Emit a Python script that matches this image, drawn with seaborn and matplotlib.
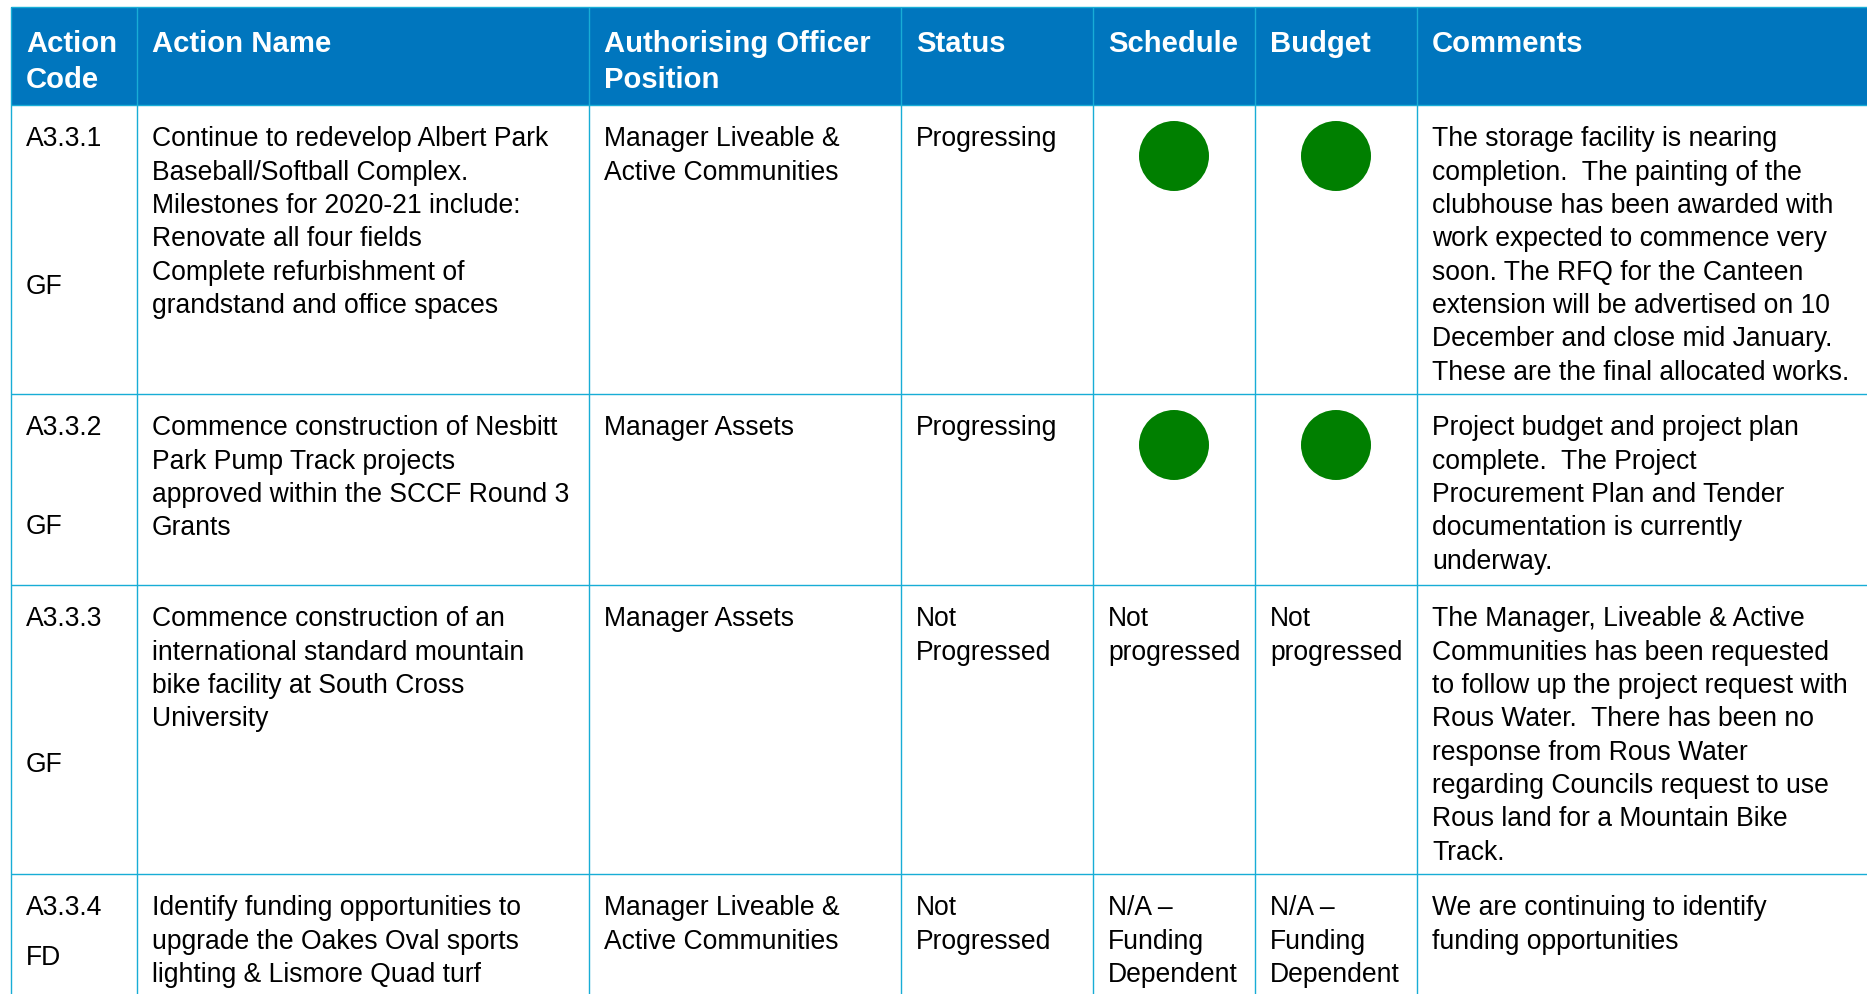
import numpy as np
import pandas as pd
import matplotlib
matplotlib.use("Agg")
import matplotlib.pyplot as plt
from matplotlib.patches import Rectangle
import seaborn as sns

# table content
headers = ["Action\nCode", "Action Name", "Authorising Officer\nPosition", "Status",
           "Schedule", "Budget", "Comments"]
codes = ["A3.3.1", "A3.3.2", "A3.3.3", "A3.3.4"]
funds = ["GF", "GF", "GF", "FD"]
names = [
    "Continue to redevelop Albert Park\nBaseball/Softball Complex.\nMilestones for 2020-21 include:\n"
    "Renovate all four fields\nComplete refurbishment of\ngrandstand and office spaces",
    "Commence construction of Nesbitt\nPark Pump Track projects\napproved within the SCCF Round 3\nGrants",
    "Commence construction of an\ninternational standard mountain\nbike facility at South Cross\nUniversity",
    "Identify funding opportunities to\nupgrade the Oakes Oval sports\nlighting & Lismore Quad turf",
]
officers = ["Manager Liveable &\nActive Communities", "Manager Assets", "Manager Assets",
            "Manager Liveable &\nActive Communities"]
status = ["Progressing", "Progressing", "Not\nProgressed", "Not\nProgressed"]
schedule = ["green", "green", "Not\nprogressed", "N/A \u2013\nFunding\nDependent"]
budget = ["green", "green", "Not\nprogressed", "N/A \u2013\nFunding\nDependent"]
comments = [
    "The storage facility is nearing\ncompletion.  The painting of the\nclubhouse has been awarded with\n"
    "work expected to commence very\nsoon. The RFQ for the Canteen\nextension will be advertised on 10\n"
    "December and close mid January.\nThese are the final allocated works.",
    "Project budget and project plan\ncomplete.  The Project\nProcurement Plan and Tender\n"
    "documentation is currently\nunderway.",
    "The Manager, Liveable & Active\nCommunities has been requested\nto follow up the project request with\n"
    "Rous Water.  There has been no\nresponse from Rous Water\nregarding Councils request to use\n"
    "Rous land for a Mountain Bike\nTrack.",
    "We are continuing to identify\nfunding opportunities",
]

# layout in pixels
W, H = 1867, 994
col_x = [11, 137, 589, 901, 1093, 1255, 1417, W]
header_top, header_bottom = 7, 105
row_tops = [105, 394, 585, 874]
fund_dy = [182, 133, 180, 84]
pad_x = 15
line_h = 33.3
first_dy = 34.4
dot_dy = 51

blue = "#0076BE"
grid = "#18ADD6"
dot_green = "#007F00"

sns.set_theme(style="white")
plt.rcParams["font.family"] = ["Liberation Sans", "DejaVu Sans"]

fig = plt.figure(figsize=(W / 100, H / 100), dpi=100)
ax = fig.add_axes([0, 0, 1, 1])
ax.set_xlim(0, W)
ax.set_ylim(H, 0)
ax.axis("off")

# header band
ax.add_patch(Rectangle((col_x[0], header_top), W - col_x[0], header_bottom - header_top,
                       facecolor=blue, edgecolor="none", zorder=1))
for c, label in enumerate(headers):
    for i, line in enumerate(label.split("\n")):
        ax.text(col_x[c] + pad_x, header_top + 37.1 + i * 35.7, line, color="white",
                fontsize=21.1, fontweight="bold", va="center", ha="left", zorder=3)

# grid lines
ax.vlines(col_x[:-1], header_top, H, color=grid, lw=1.0, zorder=2)
ax.hlines([header_top], col_x[0], W, color=grid, lw=1.0, zorder=2)
ax.hlines(row_tops, col_x[0], W, color=grid, lw=1.0, zorder=2)


def cell(col, row, text):
    for i, line in enumerate(text.split("\n")):
        ax.text(col_x[col] + pad_x, row_tops[row] + first_dy + i * line_h, line,
                color="black", fontsize=19.1, va="center", ha="left", zorder=3)


dots = []
for r in range(len(codes)):
    cell(0, r, codes[r])
    ax.text(col_x[0] + pad_x, row_tops[r] + fund_dy[r], funds[r], color="black",
            fontsize=19.1, va="center", ha="left", zorder=3)
    cell(1, r, names[r])
    cell(2, r, officers[r])
    cell(3, r, status[r])
    for c, val in ((4, schedule[r]), (5, budget[r])):
        if val == "green":
            dots.append({"x": (col_x[c] + col_x[c + 1]) / 2, "y": row_tops[r] + dot_dy})
        else:
            cell(c, r, val)
    cell(6, r, comments[r])

dots = pd.DataFrame(dots)
sns.scatterplot(data=dots, x="x", y="y", ax=ax, s=2540, color=dot_green,
                edgecolor="none", linewidth=0, zorder=4, legend=False)
ax.set_xlim(0, W)
ax.set_ylim(H, 0)
ax.axis("off")

fig.savefig("out.png", dpi=100)
